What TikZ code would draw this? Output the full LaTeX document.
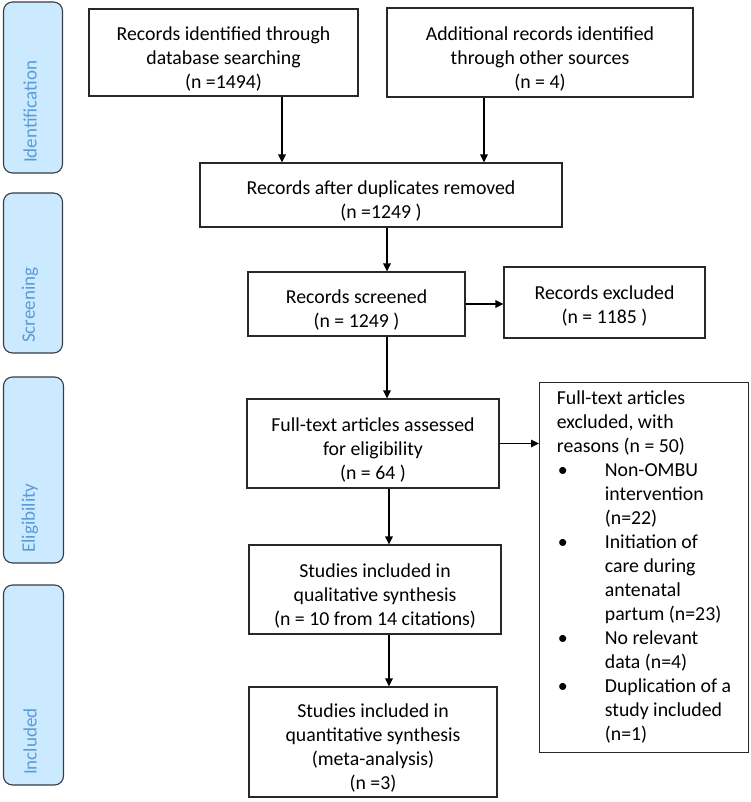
\documentclass[tikz,border=0pt]{standalone}
\usepackage{fontspec}
\setmainfont{Carlito}
\usetikzlibrary{arrows.meta}
\definecolor{phasefill}{RGB}{204,234,255}
\definecolor{phasetext}{RGB}{91,155,213}
\definecolor{phaseline}{RGB}{55,60,70}
\definecolor{boxline}{RGB}{40,40,40}
\newcommand{\btext}[2][14pt]{\raisebox{0pt}[\dimexpr\height+#1\relax][\depth]{\begin{tabular}{@{}c@{}}#2\end{tabular}}}
\begin{document}
\begin{tikzpicture}[x=1pt,y=-1pt,
  font=\fontsize{19.8}{24}\selectfont,
  box/.style={draw=boxline, line width=1.1pt, fill=white, align=center, inner sep=0pt},
  phase/.style={draw=phaseline, line width=1.1pt, fill=phasefill, rounded corners=9pt, inner sep=0pt},
  phaselabel/.style={rotate=90, anchor=west, text=phasetext, inner sep=0pt, font=\fontsize{19}{23}\selectfont},
  arr/.style={line width=1.3pt, draw=black, -{Triangle[length=8pt,width=7.5pt]}}]
\useasboundingbox (0,0) rectangle (750,802);

% phase boxes
\node[phase, minimum width=59pt, minimum height=171pt] (pid) at (33,87.5) {};
\node[phase, minimum width=59pt, minimum height=160pt] (psc) at (33,273) {};
\node[phase, minimum width=60pt, minimum height=186pt] (pel) at (33.5,470) {};
\node[phase, minimum width=60pt, minimum height=200pt] (pin) at (33.5,685) {};
\node[phaselabel] (lid) at (30,163) {Identification};
\node[phaselabel] (lsc) at (30,343) {Screening};
\node[phaselabel] (lel) at (30,553) {Eligibility};
\node[phaselabel] (lin) at (30,775) {Included};

% main boxes
\node[box, minimum width=269pt, minimum height=87pt] (b1) at (223.5,52.5)
  {\btext{Records identified through\\database searching\\(n =1494)}};
\node[box, minimum width=306pt, minimum height=89pt] (b2) at (540,52.5)
  {\btext{Additional records identified\\through other sources\\(n = 4)}};
\node[box, minimum width=362pt, minimum height=64pt] (b3) at (381,195)
  {\btext{Records after duplicates removed\\(n =1249 )}};
\node[box, minimum width=217pt, minimum height=64pt] (b4) at (356.5,304)
  {\btext{Records screened\\(n = 1249 )}};
\node[box, minimum width=201pt, minimum height=71pt] (b5) at (604.5,302.5)
  {\btext[8pt]{Records excluded\\(n = 1185 )}};
\node[box, minimum width=252pt, minimum height=89pt] (b6) at (373,443.5)
  {\btext{Full-text articles assessed\\for eligibility\\(n = 64 )}};
\node[box, anchor=north west, minimum width=209pt, align=left, inner xsep=15pt, inner ysep=5pt] (b7) at (539,382)
  {\begin{tabular}{@{}p{48pt}@{}l@{}}
  \multicolumn{2}{@{}l@{}}{Full-text articles}\\
  \multicolumn{2}{@{}l@{}}{excluded, with}\\
  \multicolumn{2}{@{}l@{}}{reasons (n = 50)}\\
  \hspace{1pt}\textbullet & Non-OMBU\\
  & intervention\\
  & (n=22)\\
  \hspace{1pt}\textbullet & Initiation of\\
  & care during\\
  & antenatal\\
  & partum (n=23)\\
  \hspace{1pt}\textbullet & No relevant\\
  & data (n=4)\\
  \hspace{1pt}\textbullet & Duplication of a\\
  & study included\\
  & (n=1)
  \end{tabular}};
\node[box, minimum width=252pt, minimum height=89pt] (b8) at (375,589.5)
  {\btext{Studies included in\\qualitative synthesis\\(n = 10 from 14 citations)}};
\node[box, minimum width=248pt, minimum height=110pt] (b9) at (373,742)
  {\btext{Studies included in\\quantitative synthesis\\(meta-analysis)\\(n =3)}};

% arrow x positions
\coordinate (xa) at (282,0);
\coordinate (xb) at (484,0);
\coordinate (xc) at (387,0);
\coordinate (xd) at (389,0);

\draw[arr] (b1.south -| xa) -- (b3.north -| xa);
\draw[arr] (b2.south -| xb) -- (b3.north -| xb);
\draw[arr] (b3.south -| xc) -- (b4.north -| xc);
\draw[arr] (b4.east) -- (b5.west |- b4.east);
\draw[arr] (b4.south -| xc) -- (b6.north -| xc);
\draw[arr] (b6.east) -- (b7.west |- b6.east);
\draw[arr] (b6.south -| xd) -- (b8.north -| xd);
\draw[arr] (b8.south -| xd) -- (b9.north -| xd);
\end{tikzpicture}
\end{document}
